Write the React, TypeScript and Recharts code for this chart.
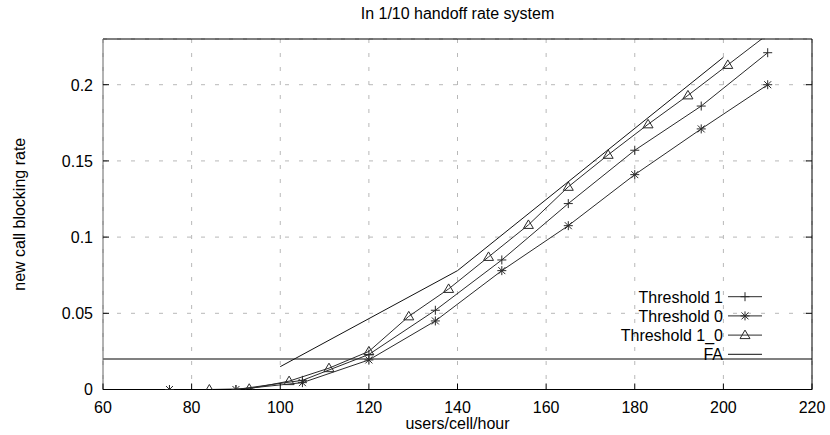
import React from 'react';
import { LineChart, Line, XAxis, YAxis, CartesianGrid, ReferenceLine } from 'recharts';

const X_TICKS = [60, 80, 100, 120, 140, 160, 180, 200, 220];
const Y_TICKS = [0, 0.05, 0.1, 0.15, 0.2];
const Y_MAX = 0.23;
const FA_LIMIT = 0.02;

const threshold1X = [75, 90, 105, 120, 135, 150, 165, 180, 195, 210];
const threshold1Y = [0, 0, 0.006, 0.023, 0.052, 0.085, 0.122, 0.157, 0.186, 0.221];
const threshold0X = [75, 90, 105, 120, 135, 150, 165, 180, 195, 210];
const threshold0Y = [0, 0, 0.0045, 0.0194, 0.045, 0.078, 0.1075, 0.141, 0.171, 0.2];
const threshold10X = [84, 93, 102, 111, 120, 129, 138, 147, 156, 165, 174, 183, 192, 201, 210];
const threshold10Y = [0, 0.0005, 0.0055, 0.014, 0.025, 0.048, 0.066, 0.087, 0.108, 0.133, 0.154, 0.174, 0.193, 0.213, 0.233];
const faX = [100, 140, 200];
const faY = [0.015, 0.078, 0.218];

const toPoints = (xs: number[], ys: number[]) => xs.map((x, i) => ({ x, y: ys[i] }));

const FONT = '"Liberation Sans", Arial, Helvetica, sans-serif';
const INK = '#2a2a2a';

type MarkKind = 'plus' | 'star' | 'triangle' | 'none';

const markPath = (kind: MarkKind, cx: number, cy: number) => {
  const plus = `M${cx - 4.5},${cy}h9M${cx},${cy - 4.5}v9`;
  if (kind === 'plus') return plus;
  if (kind === 'star') return `${plus}M${cx - 3.5},${cy - 3.5}l7,7M${cx - 3.5},${cy + 3.5}l7,-7`;
  if (kind === 'triangle') return `M${cx},${cy - 5}L${cx + 5},${cy + 3.5}L${cx - 5},${cy + 3.5}Z`;
  return '';
};

const makeDot = (kind: MarkKind) => (p: any) => {
  const k = p.key ?? `dot-${p.index}`;
  if (p.payload && p.payload.y > Y_MAX) return <g key={k} />;
  return <path key={k} d={markPath(kind, p.cx, p.cy)} fill="none" stroke={INK} strokeWidth={1} />;
};

const series = [
  { name: 'Threshold 1', data: toPoints(threshold1X, threshold1Y), mark: 'plus' as MarkKind, color: INK },
  { name: 'Threshold 0', data: toPoints(threshold0X, threshold0Y), mark: 'star' as MarkKind, color: INK },
  { name: 'Threshold 1_0', data: toPoints(threshold10X, threshold10Y), mark: 'triangle' as MarkKind, color: INK },
  { name: 'FA', data: toPoints(faX, faY), mark: 'none' as MarkKind, color: '#111' },
];

const BottomTick = ({ x, y, payload }: any) => (
  <g>
    <line x1={x} y1={y} x2={x} y2={y - 6} stroke="#000" />
    <text x={x} y={y + 23} textAnchor="middle" fontSize={16} fontFamily={FONT} fill="#000">
      {payload.value}
    </text>
  </g>
);

const TopTick = ({ x, y }: any) => <line x1={x} y1={y} x2={x} y2={y + 6} stroke="#000" />;

const LeftTick = ({ x, y, payload }: any) => (
  <g>
    <line x1={x} y1={y} x2={x + 6} y2={y} stroke="#000" />
    <text x={x - 10} y={y + 5.8} textAnchor="end" fontSize={16} fontFamily={FONT} fill="#000">
      {payload.value}
    </text>
  </g>
);

const RightTick = ({ x, y }: any) => <line x1={x} y1={y} x2={x - 6} y2={y} stroke="#000" />;

// legend drawn as an overlay so it doesn't eat into the plot area
const LegendBox = () => (
  <svg width={210} height={80} style={{ position: 'absolute', left: 560, top: 287 }}>
    {series.map((s, i) => {
      const cy = 9.7 + i * 19.2;
      return (
        <g key={s.name}>
          <text x={163} y={cy + 5.8} textAnchor="end" fontSize={16} fontFamily={FONT} fill="#000">
            {s.name}
          </text>
          <line x1={168} y1={cy} x2={202} y2={cy} stroke={s.color} />
          {s.mark !== 'none' && <path d={markPath(s.mark, 185, cy)} fill="none" stroke={INK} />}
        </g>
      );
    })}
  </svg>
);

export default function App() {
  return (
    <div style={{ position: 'absolute', left: 0, top: 0, width: 830, height: 435, background: '#fff', fontFamily: FONT }}>
      <div
        style={{
          position: 'absolute',
          left: 103,
          width: 709,
          top: 4,
          textAlign: 'center',
          fontSize: 16,
          lineHeight: '20px',
          color: '#000',
        }}
      >
        In 1/10 handoff rate system
      </div>
      <LineChart width={830} height={435} margin={{ top: 38, right: 17, bottom: 0, left: 0 }}>
        <CartesianGrid stroke="#b8b8b8" strokeDasharray="4 10" />
        <XAxis
          dataKey="x"
          type="number"
          domain={[60, 220]}
          ticks={X_TICKS}
          height={45.5}
          tickSize={0}
          tickMargin={0}
          tickLine={false}
          axisLine={{ stroke: '#000' }}
          tick={<BottomTick />}
          interval={0}
          label={(props: any) => {
            const vb = props.viewBox;
            return (
              <text x={vb.x + vb.width / 2} y={429} textAnchor="middle" fontSize={16} fontFamily={FONT} fill="#000">
                users/cell/hour
              </text>
            );
          }}
        />
        <XAxis
          xAxisId="top"
          orientation="top"
          type="number"
          domain={[60, 220]}
          ticks={X_TICKS}
          height={1}
          tickSize={0}
          tickMargin={0}
          tickLine={false}
          axisLine={{ stroke: '#000' }}
          tick={<TopTick />}
          interval={0}
        />
        <YAxis
          type="number"
          domain={[0, Y_MAX]}
          ticks={Y_TICKS}
          width={103}
          tickSize={0}
          tickMargin={0}
          tickLine={false}
          allowDataOverflow
          axisLine={{ stroke: '#666' }}
          tick={<LeftTick />}
          interval={0}
          label={(props: any) => {
            const vb = props.viewBox;
            const cy = vb.y + vb.height / 2;
            return (
              <text
                x={24.5}
                y={cy}
                transform={`rotate(-90, 24.5, ${cy})`}
                textAnchor="middle"
                fontSize={16}
                fontFamily={FONT}
                fill="#000"
              >
                new call blocking rate
              </text>
            );
          }}
        />
        <YAxis
          yAxisId="right"
          orientation="right"
          type="number"
          domain={[0, Y_MAX]}
          ticks={Y_TICKS}
          width={1}
          tickSize={0}
          tickMargin={0}
          tickLine={false}
          allowDataOverflow
          axisLine={{ stroke: '#000' }}
          tick={<RightTick />}
          interval={0}
        />
        <ReferenceLine y={FA_LIMIT} stroke="#808080" strokeWidth={2} ifOverflow="hidden" />
        {series.map((s) => (
          <Line
            key={s.name}
            name={s.name}
            data={s.data}
            dataKey="y"
            type="linear"
            stroke={s.color}
            strokeWidth={1}
            dot={s.mark === 'none' ? false : makeDot(s.mark)}
            activeDot={false}
            isAnimationActive={false}
          />
        ))}
      </LineChart>
      <LegendBox />
    </div>
  );
}
